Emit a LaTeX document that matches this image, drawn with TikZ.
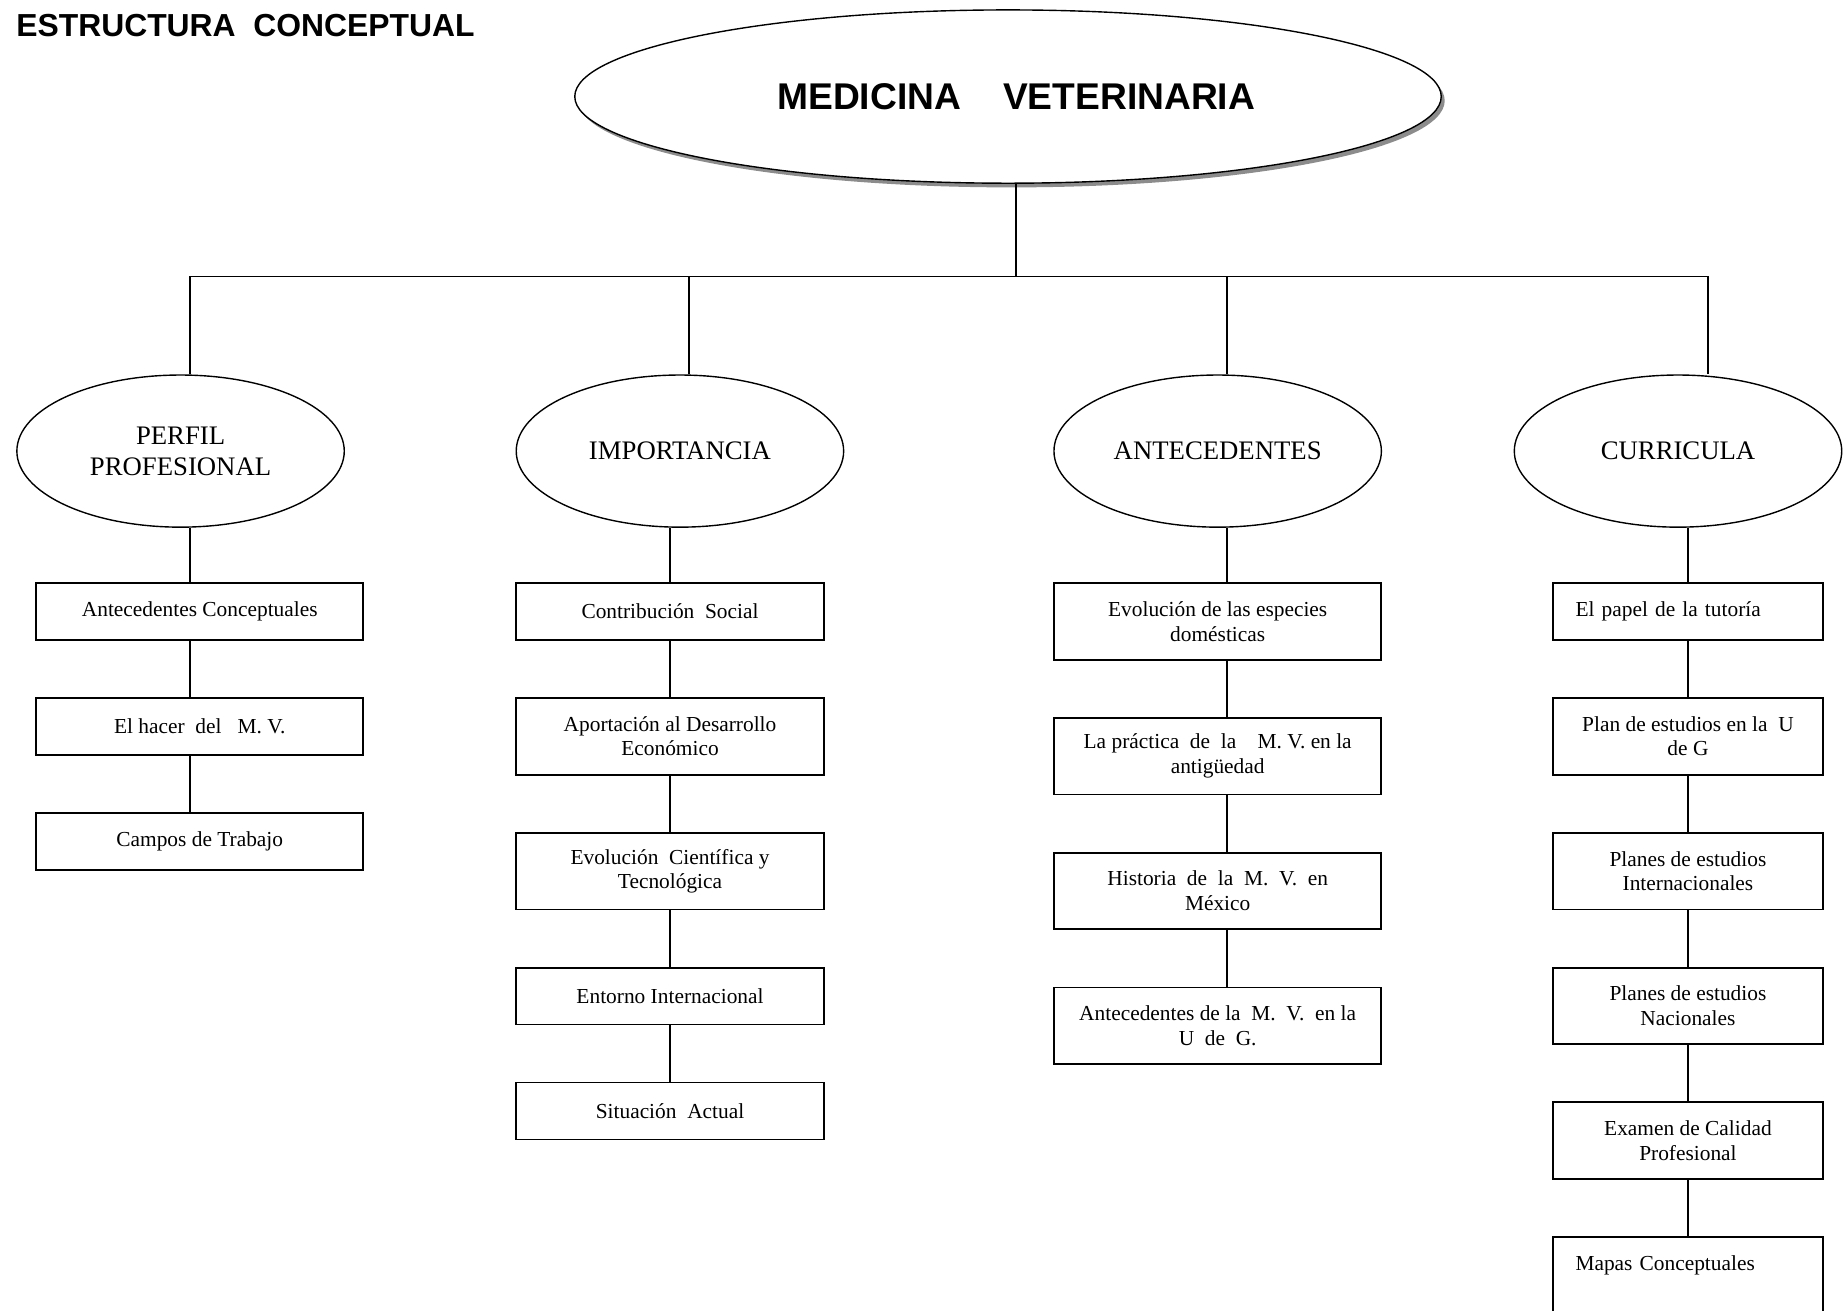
\documentclass[tikz,border=0pt]{standalone}
\usepackage{fontspec}
\setmainfont{Liberation Serif}
\newfontfamily\arialfont{Liberation Sans}
\usetikzlibrary{shapes.geometric, positioning, shadows}
\tikzstyle{topic} = [ellipse, draw=black, line width=0.6pt, minimum width=4.95cm, minimum height=2.3cm, align=center, font=\fontsize{11.5}{13.5}\selectfont]
\tikzstyle{box} = [rectangle, draw=black, line width=0.8pt, minimum height=0.86cm, align=center, font=\fontsize{9.2}{10.6}\selectfont]
\tikzstyle{tall} = [box, minimum height=1.16cm]
\tikzstyle{line} = [line width=0.7pt]

\begin{document}
\begin{tikzpicture}[node distance=0.85cm]
    \useasboundingbox (0,0) rectangle (27.94,-19.81);

    % Title
    \node (title) [anchor=west, inner sep=0pt, font=\arialfont\bfseries\fontsize{13.7}{16}\selectfont] at (0.24,-0.38) {ESTRUCTURA\ \ CONCEPTUAL};

    % Main ellipse
    \node (mv) [ellipse, draw=black, fill=white, line width=0.6pt, minimum width=13.1cm, minimum height=2.62cm,
        drop shadow={shadow xshift=1.5pt, shadow yshift=-1.8pt, fill=gray!90, opacity=1},
        font=\arialfont\bfseries\fontsize{16}{18}\selectfont] at (15.24,-1.46) {\hspace*{0.25cm}MEDICINA\hspace{18pt}VETERINARIA};

    % Bar
    \coordinate (bar) at (15.36,-4.18);
    \coordinate (s1) at (2.87,-4.18);
    \coordinate (s2) at (10.42,-4.18);
    \coordinate (s3) at (18.55,-4.18);
    \coordinate (s4) at (25.82,-4.18);

    % Topics
    \node (e1) [topic] at (2.73,-6.82) {PERFIL\\PROFESIONAL};
    \node (e2) [topic] at (10.28,-6.82) {IMPORTANCIA};
    \node (e3) [topic] at (18.41,-6.82) {ANTECEDENTES};
    \node (e4) [topic] at (25.37,-6.82) {CURRICULA};

    % Perfil profesional
    \node (p1) [box, minimum width=4.94cm, below=0.82cm of e1, xshift=0.29cm] {Antecedentes Conceptuales};
    \node (p2) [box, minimum width=4.94cm, below=of p1] {El hacer\ \ del\ \ \ M.~V.};
    \node (p3) [box, minimum width=4.94cm, below=of p2] {Campos de Trabajo};

    % Importancia
    \node (i1) [box, minimum width=4.65cm, below=0.82cm of e2, xshift=-0.15cm] {Contribución\ \ Social};
    \node (i2) [tall, minimum width=4.65cm, below=of i1] {Aportación al Desarrollo\\Económico};
    \node (i3) [tall, minimum width=4.65cm, below=of i2] {Evolución\ \ Científica y\\Tecnológica};
    \node (i4) [box, minimum width=4.65cm, below=of i3] {Entorno Internacional};
    \node (i5) [box, minimum width=4.65cm, below=of i4] {Situación\ \ Actual};

    % Antecedentes
    \node (a1) [tall, minimum width=4.95cm, below=0.82cm of e3] {Evolución de las especies\\domésticas};
    \node (a2) [tall, minimum width=4.95cm, below=of a1] {La práctica\ \ de\ \ la\ \ \ \ M.~V. en la\\antigüedad};
    \node (a3) [tall, minimum width=4.95cm, below=of a2] {Historia\ \ de\ \ la\ \ M.\ \ V.\ \ en\\México};
    \node (a4) [tall, minimum width=4.95cm, below=of a3] {Antecedentes de la\ \ M.\ \ V.\ \ en la\\U\ \ de\ \ G.};

    % Curricula
    \node (c1) [box, minimum width=4.08cm, text width=3.4cm, align=left, below=0.82cm of e4, xshift=0.15cm] {El papel de la tutoría};
    \node (c2) [tall, minimum width=4.08cm, below=of c1] {Plan de estudios en la\ \ U\\de G};
    \node (c3) [tall, minimum width=4.08cm, below=of c2] {Planes de estudios\\Internacionales};
    \node (c4) [tall, minimum width=4.08cm, below=of c3] {Planes de estudios\\Nacionales};
    \node (c5) [tall, minimum width=4.08cm, below=of c4] {Examen de Calidad\\Profesional};
    \node (c6) [tall, minimum width=4.08cm, text width=3.4cm, align=left, below=of c5] {Mapas Conceptuales\\~};

    % Connectors
    \draw [line] (mv.south -| bar) -- (bar);
    \draw [line] (s1) -- (s4);
    \foreach \i in {1,...,4}
        \draw [line] (s\i) -- (s\i |- e\i.north);

    \foreach \a/\b in {e1/p1, p1/p2, p2/p3}
        \draw [line] (\a.south -| s1) -- (\b.north -| s1);
    \foreach \a/\b in {e2/i1, i1/i2, i2/i3, i3/i4, i4/i5}
        \draw [line] (\a.south -| \b.north) -- (\b.north);
    \foreach \a/\b in {e3/a1, a1/a2, a2/a3, a3/a4}
        \draw [line] (\a.south -| s3) -- (\b.north -| s3);
    \foreach \a/\b in {e4/c1, c1/c2, c2/c3, c3/c4, c4/c5, c5/c6}
        \draw [line] (\a.south -| \b.north) -- (\b.north);

\end{tikzpicture}
\end{document}
